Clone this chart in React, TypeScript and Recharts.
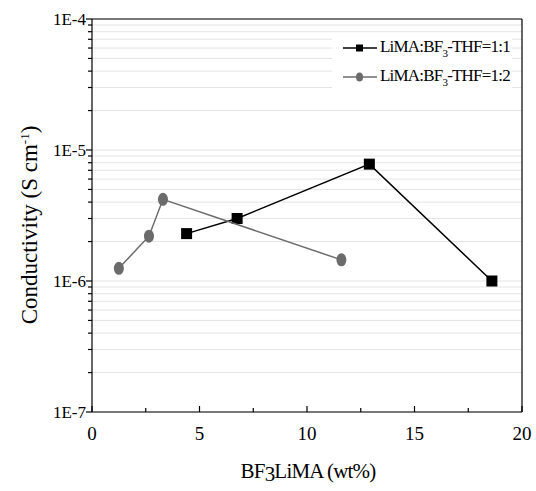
import React from "react";
import {
  ScatterChart, Scatter, XAxis, YAxis, CartesianGrid, ReferenceLine,
} from "recharts";

const FONT = "Liberation Serif, DejaVu Serif, serif";

// BF3LiMA content (wt%) vs conductivity (S/cm)
const ratio11X = [4.4, 6.75, 12.9, 18.6];
const ratio11Y = [2.3e-6, 3.0e-6, 7.8e-6, 1.0e-6];
const ratio12X = [1.25, 2.65, 3.3, 11.6];
const ratio12Y = [1.25e-6, 2.2e-6, 4.2e-6, 1.45e-6];

const yDecades = [1e-7, 1e-6, 1e-5, 1e-4];
const yMinorSteps = [2, 3, 4, 5, 6, 7, 8, 9];
const xTicks = [0, 2.5, 5, 7.5, 10, 12.5, 15, 17.5, 20];

const yTicks: number[] = [];
yDecades.forEach((d, i) => {
  yTicks.push(d);
  if (i < yDecades.length - 1) yMinorSteps.forEach((m) => yTicks.push(d * m));
});

const data11 = ratio11X.map((x, i) => ({ x, y: ratio11Y[i] }));
const data12 = ratio12X.map((x, i) => ({ x, y: ratio12Y[i] }));

const isDecade = (v: number) => Math.abs(Math.log10(v) - Math.round(Math.log10(v))) < 1e-9;

const YTick = ({ x, y, payload }: any) => {
  const major = isDecade(payload.value);
  return (
    <g>
      <line x1={x - (major ? 6 : 4)} x2={x} y1={y} y2={y} stroke="#000" strokeWidth={1.2} />
      {major && (
        <text x={x - 6} y={y} dy={6} textAnchor="end" fontFamily={FONT} fontSize={17} fill="#000">
          {"1E" + Math.round(Math.log10(payload.value))}
        </text>
      )}
    </g>
  );
};

const XTick = ({ x, y, payload }: any) => {
  const major = payload.value % 5 === 0;
  return (
    <g>
      <line x1={x} x2={x} y1={y} y2={y - (major ? 6 : 4)} stroke="#000" strokeWidth={1.2} />
      {major && (
        <text x={x} y={y + 28} textAnchor="middle" fontFamily={FONT} fontSize={19} fill="#000">
          {payload.value}
        </text>
      )}
    </g>
  );
};

const Square = ({ cx, cy }: any) => (
  <rect x={cx - 5.5} y={cy - 5.5} width={11} height={11} fill="#000" />
);
const Dot = ({ cx, cy }: any) => (
  <ellipse cx={cx} cy={cy} rx={5} ry={6.5} fill="#6b6b6b" />
);

const legendItems = [
  { ratio: "1:1", color: "#000", square: true },
  { ratio: "1:2", color: "#6b6b6b", square: false },
];

const LegendBox = () => (
  <div
    style={{
      position: "absolute", left: 332, top: 33, width: 180, height: 58,
      background: "#fff", fontFamily: FONT, fontSize: 17, color: "#000",
    }}
  >
    {legendItems.map((it, i) => (
      <div key={i} style={{ display: "flex", alignItems: "center", height: 29, paddingLeft: 10 }}>
        <svg width={36} height={14} style={{ marginRight: 2 }}>
          <line x1={1} x2={35} y1={7} y2={7} stroke={it.color} strokeWidth={1.5} />
          {it.square
            ? <rect x={14} y={3.5} width={7} height={7} fill={it.color} />
            : <ellipse cx={17.5} cy={7} rx={3.5} ry={4.5} fill={it.color} />}
        </svg>
        <span style={{ letterSpacing: -0.8 }}>
          LiMA:BF<sub style={{ fontSize: 11, verticalAlign: -5 }}>3</sub>-THF=1:{it.ratio.split(":")[1]}
        </span>
      </div>
    ))}
  </div>
);

export default function App() {
  return (
    <div style={{ position: "absolute", left: 0, top: 0, width: 536, height: 491, background: "#fff" }}>
      <ScatterChart width={536} height={491} margin={{ top: 19, right: 14, bottom: 49, left: 0 }}>
        <CartesianGrid vertical={false} stroke="#e4e4e4" />
        <XAxis
          type="number"
          dataKey="x"
          domain={[0, 20]}
          ticks={xTicks}
          interval={0}
          tickSize={0}
          tickMargin={0}
          tick={<XTick />}
          height={30}
          axisLine={{ stroke: "#000", strokeWidth: 1.2 }}
        />
        <YAxis
          type="number"
          dataKey="y"
          scale="log"
          domain={[1e-7, 1e-4]}
          ticks={yTicks}
          interval={0}
          tickSize={0}
          tickMargin={0}
          tick={<YTick />}
          width={92}
          allowDataOverflow
          axisLine={{ stroke: "#000", strokeWidth: 1.2 }}
        />
        <ReferenceLine y={1e-4} stroke="#000" strokeWidth={1.2} />
        <ReferenceLine x={20} stroke="#000" strokeWidth={1.2} />
        <Scatter
          name="LiMA:BF3-THF=1:1"
          data={data11}
          fill="#000"
          line={{ stroke: "#000", strokeWidth: 1.5 }}
          shape={<Square />}
          isAnimationActive={false}
        />
        <Scatter
          name="LiMA:BF3-THF=1:2"
          data={data12}
          fill="#6b6b6b"
          line={{ stroke: "#6b6b6b", strokeWidth: 1.5 }}
          shape={<Dot />}
          isAnimationActive={false}
        />
      </ScatterChart>
      <LegendBox />
      <div
        style={{
          position: "absolute", left: 30, top: 225, transform: "translate(-50%, -50%) rotate(-90deg)",
          whiteSpace: "nowrap", fontFamily: FONT, fontSize: 23, color: "#000",
        }}
      >
        Conductivity (S cm<sup style={{ fontSize: 13 }}>-1</sup>)
      </div>
      <div
        style={{
          position: "absolute", left: 308, top: 471, transform: "translate(-50%, -50%)",
          whiteSpace: "nowrap", fontFamily: FONT, fontSize: 21, color: "#000", letterSpacing: -0.8,
        }}
      >
        BF<span style={{ position: "relative", top: 3 }}>3</span>LiMA (wt%)
      </div>
    </div>
  );
}
